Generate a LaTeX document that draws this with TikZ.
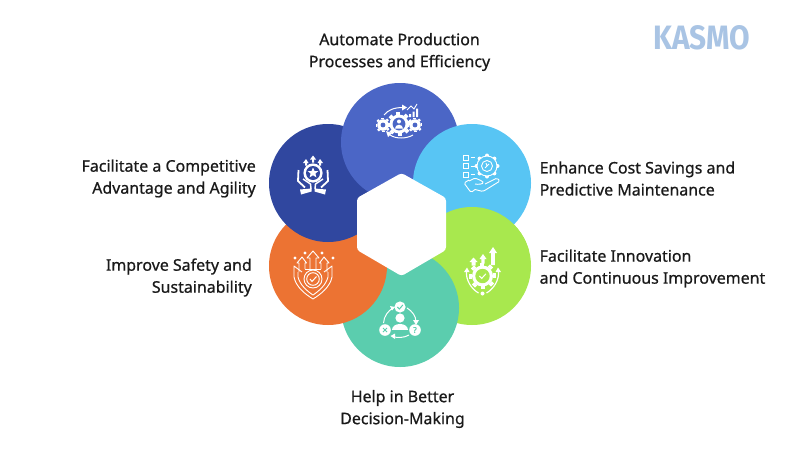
\documentclass[tikz,border=0pt]{standalone}
\usepackage{fontspec}
\setmainfont{Noto Sans}[FakeBold=0.7]
\newfontfamily\logofont{Fira Sans}
\usetikzlibrary{calc}
\definecolor{cteal}{HTML}{5BCDAE}
\definecolor{cgreen}{HTML}{A8E84E}
\definecolor{corange}{HTML}{EC7333}
\definecolor{cdark}{HTML}{30479F}
\definecolor{cmid}{HTML}{4B66C6}
\definecolor{clight}{HTML}{58C5F4}
\definecolor{clogo}{HTML}{A9C4E4}
\definecolor{ctext}{HTML}{1A1A1A}
\tikzset{
  petal/.style={circle,minimum size=118pt,inner sep=0pt,outer sep=0pt},
  lbl/.style={font=\fontsize{15.95}{22}\selectfont,text=ctext,inner sep=0pt,align=center},
}
\newcommand{\gearicon}[3]{% x y r
  \foreach \a in {0,45,...,315}{\fill[white] (#1,#2) ++(\a-16:#3) -- ++(\a:0.32*#3) -- ++(\a+90:0.42*#3) -- ++(\a+180:0.32*#3) -- cycle;}
  \fill[white] (#1,#2) circle (#3);
}
\begin{document}
\begin{tikzpicture}[x=1pt,y=-1pt]
\useasboundingbox[fill=white] (0,0) rectangle (800,450);
\node[petal,fill=cgreen] (green) at (472,266) {};
\node[petal,fill=cteal] (teal) at (400,308) {};
\node[petal,fill=corange] (orange) at (328,266) {};
\node[petal,fill=cdark] (dark) at (328,183) {};
\node[petal,fill=cmid] (mid) at (400,142) {};
\node[petal,fill=clight] (light) at (472,183) {};
\begin{scope}
\clip (420,200) rectangle (540,249);
\fill[cgreen] (472,266) circle (59);
\end{scope}
\fill[white,rounded corners=3pt] (401.5,173) -- (446,198) -- (446,250) -- (401.5,276) -- (357,250) -- (357,198) -- cycle;

% top icon: gears
\gearicon{383}{125}{5.8}\fill[cmid] (383,125) circle (2.4);
\gearicon{415}{125}{5.8}\fill[cmid] (415,125) circle (2.4);
\gearicon{399}{124}{9.5}\fill[cmid] (399,124) circle (6.4);
\fill[white] (399,121.5) circle (2);
\fill[white] (395,128.5) arc (180:360:4 and 3.8) -- cycle;
\draw[white,line width=1pt] (384,115) .. controls (388,110) and (394,107.5) .. (403,107.5);
\fill[white] (407,107.5) -- (402,104.5) -- (402,110.5) -- cycle;
\draw[white,line width=1pt] (390,135) .. controls (396,139) and (406,139) .. (413,135);
\fill[white] (386,131) -- (392,133) -- (388,137) -- cycle;
\draw[white,line width=.9pt] (407,110) -- (411,106) -- (414,109) -- (417,104);
\fill[white] (409,114) rectangle (411,117) (412.5,111.5) rectangle (414.5,117) (416,108.5) rectangle (418,117);

% light icon: checklist, gear, hand
\begin{scope}[shift={(472,183)}]
\foreach \y in {-25.5,-17,-8.5}{
 \draw[white,line width=.9pt] (-8.5,\y-2.4) rectangle +(5,5);
 \draw[white,line width=.9pt] (-1.5,\y) -- (3,\y);}
\foreach \a in {0,45,...,315}{\fill[white] (15,-17) ++(\a:10.5) circle (2);}
\fill[clight] (15,-17) circle (10);
\draw[white,line width=.9pt] (15,-17) circle (10) (15,-17) circle (5.5);
\draw[white,line width=.9pt] (13,-15) -- (17,-19) (14,-20) -- (15,-17);
\draw[white,line width=.9pt,line join=round,rounded corners=1.5pt] (-3,-3) -- (-8,0) -- (-1,9.5) -- (3,6.5) (-3,-2) -- (3,-5) -- (10,-2) -- (12,0) -- (7,1.5) -- (3,1) (3,6.5) -- (11,8.5) -- (28,-2) -- (25,-5) -- (13,1);
\end{scope}

% green icon
\begin{scope}[shift={(482.5,276)}]
\gearicon{0}{0}{10.5}
\fill[cgreen] (0,0) circle (7.2);
\draw[white,line width=1pt] (-3.2,0) -- (-.8,2.4) -- (3.4,-2.2);
\draw[white,line width=1.2pt] (-16,-5) .. controls (-17,4) and (-11,13) .. (-4,17);
\draw[white,line width=1.2pt] (16,-5) .. controls (17,4) and (11,13) .. (4,17);
\fill[white] (-15.5,-8.5) -- (-18.5,-4) -- (-13,-4) -- cycle (15.5,-8.5) -- (18.5,-4) -- (13,-4) -- cycle;
\fill[white] (0,17.5) circle (2);
\fill[white] (-13,-14) -- (-9,-18.5) -- (-5,-14) -- (-7,-14) -- (-7,-10.5) -- (-11,-10.5) -- (-11,-14) -- cycle;
\fill[white] (-3,-17) -- (.5,-22) -- (4,-17) -- (2.2,-17) -- (2.2,-12.5) -- (-1.2,-12.5) -- (-1.2,-17) -- cycle;
\fill[white] (6.5,-23) -- (10.5,-29) -- (14.5,-23) -- (12.3,-23) -- (12.3,-11) -- (8.7,-11) -- (8.7,-23) -- cycle;
\end{scope}

% teal icon
\begin{scope}[shift={(400,323)}]
\fill[white] (0,-5) circle (4.6);
\fill[white] (-8,7) .. controls (-8,-1) and (8,-1) .. (8,7) -- cycle;
\fill[white] (0,-16) circle (5.6);
\draw[cteal,line width=1pt] (-2.6,-16) -- (-.6,-14) -- (2.8,-18);
\fill[white] (-15,7) circle (5.8);
\draw[cteal,line width=1pt] (-17,5) -- (-13,9) (-13,5) -- (-17,9);
\fill[white] (15,7) circle (5.8);
\node[text=cteal,font=\fontsize{8}{8}\selectfont,inner sep=0pt] (q) at (15,7) {?};
\draw[white,line width=1pt] (-7,-15) .. controls (-12,-12) and (-16,-7) .. (-16.5,0);
\fill[white] (-5,-16) -- (-10,-17) -- (-8,-12.5) -- cycle;
\draw[white,line width=1pt] (7,-15) .. controls (12,-12) and (16,-7) .. (16,-1);
\fill[white] (16,2) -- (13,-3) -- (19,-3) -- cycle;
\draw[white,line width=1pt] (-7,13.5) .. controls (-3,15) and (4,15) .. (9,12);
\fill[white] (-9.5,13) -- (-5,10.5) -- (-5,16) -- cycle;
\end{scope}

% orange icon: shield
\begin{scope}[shift={(313,280)}]
\draw[white,line width=.9pt,line join=round] (-11,-8) -- (-19,-14) -- (-19,-3) .. controls (-17,7) and (-8,14) .. (0,19) .. controls (8,14) and (17,7) .. (19,-3) -- (19,-14) -- (11,-8);
\draw[white,line width=.9pt,line join=round] (-15,-8) -- (-15,-3) .. controls (-13,5) and (-6,11) .. (0,15) .. controls (6,11) and (13,5) .. (15,-3) -- (15,-8);
\draw[white,line width=.9pt] (-8,-11) -- (8,-11);
\draw[white,line width=.9pt] (0,-1) circle (9) (0,-1) circle (6.3);
\draw[white,line width=1pt] (-3,-1) -- (-1,1.5) -- (3.5,-3.5);
\draw[white,line width=.9pt,line join=round] (-3,-11) -- (-3,-22) -- (-6,-22) -- (0,-29) -- (6,-22) -- (3,-22) -- (3,-11);
\draw[white,line width=.9pt,line join=round] (-14,-8) -- (-14,-17) -- (-16,-17) -- (-11,-23) -- (-6.5,-17) -- (-8,-17) -- (-8,-11);
\draw[white,line width=.9pt,line join=round] (14,-8) -- (14,-17) -- (16,-17) -- (11,-23) -- (6.5,-17) -- (8,-17) -- (8,-11);
\foreach \p in {(-18,-22),(-8,-27),(9,-27),(20,-22)}{\fill[white] \p ++(-1.7,0) -- ++(1.7,-1.7) -- ++(1.7,1.7) -- ++(-1.7,1.7) -- cycle;}
\end{scope}

% dark icon: hands, star
\begin{scope}[shift={(313,178)}]
\fill[white] (0,-5) circle (9.6);
\fill[cdark] (0,-5) circle (7);
\fill[white] (0,-10.5) -- (1.5,-7) -- (5.3,-7) -- (2.4,-4.3) -- (3.4,-.6) -- (0,-2.8) -- (-3.4,-.6) -- (-2.4,-4.3) -- (-5.3,-7) -- (-1.5,-7) -- cycle;
\fill[white] (0,-22.5) -- (-3,-18.5) -- (3,-18.5) -- cycle (-1,-19) rectangle (1,-15.5);
\fill[white] (-7,-19) -- (-10,-15) -- (-4.5,-15) -- cycle (-8,-15.5) rectangle (-6,-12.5);
\fill[white] (7,-19) -- (10,-15) -- (4.5,-15) -- cycle (8,-15.5) rectangle (6,-12.5);
\draw[white,line width=1.8pt,line join=round] (-14.5,-8) -- (-15,3) -- (-8,9.5) (14.5,-8) -- (15,3) -- (8,9.5);
\draw[white,line width=1.5pt,line join=round] (-10,1) -- (-2.5,6) -- (-2,11) (10,1) -- (2.5,6) -- (2,11);
\fill[white] (-13,11.5) -- (-1.5,10.5) -- (-1.5,13.5) -- (-12,16.5) -- cycle (13,11.5) -- (1.5,10.5) -- (1.5,13.5) -- (12,16.5) -- cycle;
\end{scope}

% labels
\node[lbl] (l1) at (399.5,52) {Automate Production\\Processes and Efficiency};
\node[lbl,align=left,anchor=west] (l2) at (539.5,178.5) {Enhance Cost Savings and\\Predictive Maintenance};
\node[lbl,align=left,anchor=west] (l3) at (539.5,268.5) {Facilitate Innovation\\and Continuous Improvement};
\node[lbl] (l4) at (402.5,409) {Help in Better\\Decision-Making};
\node[lbl,align=right,anchor=east] (l5) at (252,277.5) {Improve Safety and\\Sustainability};
\node[lbl,align=right,anchor=east] (l6) at (256,178.5) {Facilitate a Competitive\\Advantage and Agility\ };
\node[inner sep=0pt,text=clogo] (logo) at (702,37.5) {\resizebox{97pt}{24pt}{\logofont\bfseries KASMO}};
\end{tikzpicture}
\end{document}
